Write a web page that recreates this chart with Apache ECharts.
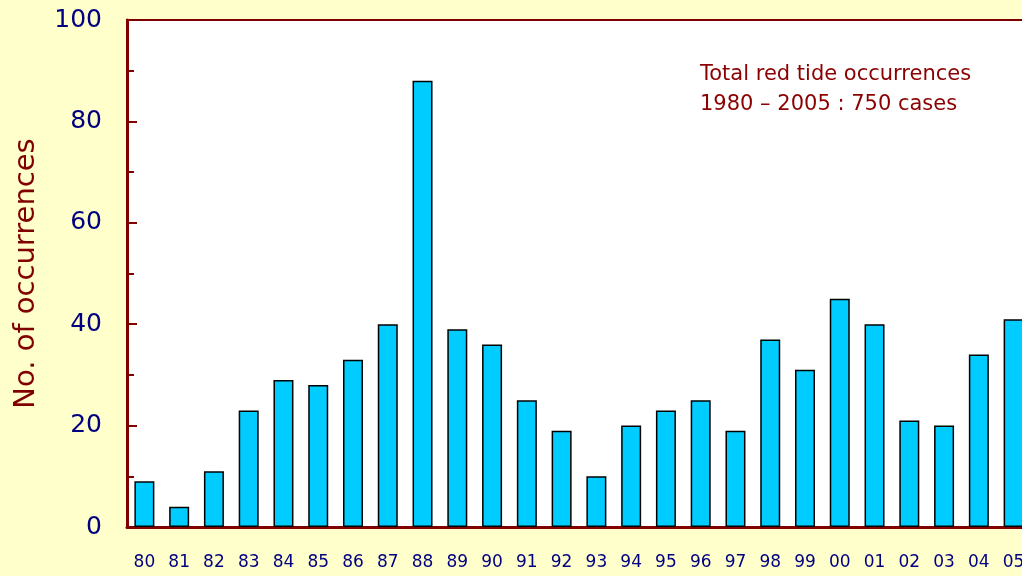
<!DOCTYPE html>
<html><head><meta charset="utf-8">
<script src="https://cdn.jsdelivr.net/npm/echarts@6/dist/echarts.min.js"></script>
<style>html,body{margin:0;padding:0;background:#FFFFCC;}#c{width:1022px;height:576px;}</style>
</head><body><div id="c"></div>
<script>
const categories = ["80","81","82","83","84","85","86","87","88","89","90","91","92","93","94","95","96","97","98","99","00","01","02","03","04","05"];
const occurrences = [9,4,11,23,29,28,33,40,88,39,36,25,19,10,20,23,25,19,37,31,45,40,21,20,34,41];
const yTitle = "No. of occurrences";
const noteLines = ["Total red tide occurrences", "1980 \u2013 2005 : 750 cases"];

const chart = echarts.init(document.getElementById('c'));
const axisRed = '#800000';
const navy = '#000080';
chart.setOption({
  backgroundColor: '#FFFFCC',
  animation: false,
  textStyle: {fontFamily: 'DejaVu Sans'},
  grid: {left: 127, top: 20, right: -9, bottom: 49, outerBoundsMode: 'none', containLabel: false,
         show: true, backgroundColor: '#FFFFFF', borderColor: axisRed, borderWidth: 2},
  xAxis: {
    type: 'category', data: categories,
    axisLine: {lineStyle: {color: axisRed, width: 3}},
    axisTick: {show: false},
    axisLabel: {color: navy, fontSize: 17, margin: 27, fontFamily: 'DejaVu Sans'}
  },
  yAxis: {
    type: 'value', min: 0, max: 100, interval: 20,
    name: yTitle, nameLocation: 'middle', nameGap: 86,
    nameTextStyle: {color: axisRed, fontSize: 29, fontFamily: 'DejaVu Sans'},
    axisLine: {show: true, lineStyle: {color: axisRed, width: 3}},
    axisTick: {show: true, inside: true, length: 10, lineStyle: {color: axisRed, width: 2}},
    minorTick: {show: true, splitNumber: 2, length: 7, lineStyle: {color: axisRed, width: 2}},
    splitLine: {show: false},
    axisLabel: {color: navy, fontSize: 25, margin: 25, fontFamily: 'DejaVu Sans'}
  },
  series: [{
    type: 'bar', data: occurrences, barWidth: 20,
    itemStyle: {color: '#00CCFF', borderColor: '#000000', borderWidth: 1.5}
  }],
  graphic: [{
    type: 'text', left: 700, top: 60,
    style: {text: noteLines.join('\n'), fill: '#8B0000', fontSize: 21, lineHeight: 30, fontFamily: 'DejaVu Sans'}
  }]
});
</script></body></html>
